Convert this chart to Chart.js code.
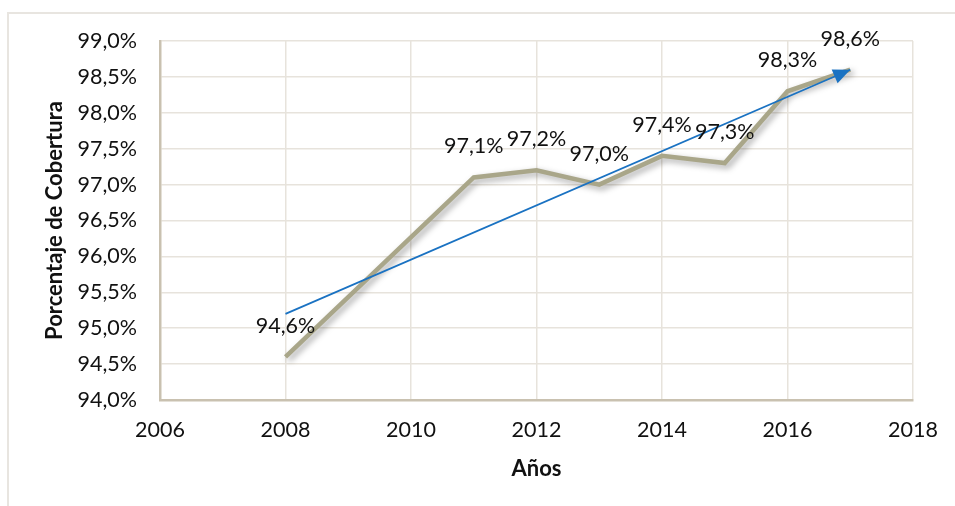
<!DOCTYPE html>
<html>
<head>
<meta charset="utf-8">
<script src="https://cdn.jsdelivr.net/npm/chart.js@4"></script>
<style>
  html, body { margin: 0; padding: 0; background: #fff; }
  #wrap { position: relative; width: 955px; height: 506px; overflow: hidden; }
  #frame { position: absolute; left: 7px; top: 12px; width: 1000px; height: 600px;
           border-left: 2px solid #e8e5e0; border-top: 2px solid #e8e5e0; }
  #c { position: absolute; left: 0; top: 0; }
</style>
</head>
<body>
<div id="wrap">
  <div id="frame"></div>
  <canvas id="c" width="955" height="506"></canvas>
</div>
<script>
const years = [2008, 2011, 2012, 2013, 2014, 2015, 2016, 2017];
const coverage = [94.6, 97.1, 97.2, 97.0, 97.4, 97.3, 98.3, 98.6];
const trendYears = [2008, 2017];
const trendValues = [95.2, 98.6];
const xTitle = 'Años';
const yTitle = 'Porcentaje de Cobertura';

const fmtPct = v => Number(v).toFixed(1).replace('.', ',') + '%';

const shadowPlugin = {
  id: 'shadow',
  beforeDatasetDraw(chart, args) {
    if (chart.data.datasets[args.index].id === 'data') {
      const c = chart.ctx;
      c.save();
      c.shadowColor = 'rgba(0,0,0,0.35)';
      c.shadowBlur = 6;
      c.shadowOffsetX = 3;
      c.shadowOffsetY = 3;
    }
  },
  afterDatasetDraw(chart, args) {
    if (chart.data.datasets[args.index].id === 'data') chart.ctx.restore();
  }
};

const arrowPlugin = {
  id: 'arrow',
  afterDatasetsDraw(chart) {
    const idx = chart.data.datasets.findIndex(d => d.id === 'trend');
    const pts = chart.getDatasetMeta(idx).data;
    const a = pts[pts.length - 2], b = pts[pts.length - 1];
    const ang = Math.atan2(b.y - a.y, b.x - a.x);
    const L = 17, W = 7.5;
    const c = chart.ctx;
    c.save();
    c.translate(b.x, b.y);
    c.rotate(ang);
    c.beginPath();
    c.moveTo(0, 0);
    c.lineTo(-L, -W);
    c.lineTo(-L, W);
    c.closePath();
    c.fillStyle = '#1a72c2';
    c.fill();
    c.restore();

    // data labels
    const di = chart.data.datasets.findIndex(d => d.id === 'data');
    const meta = chart.getDatasetMeta(di);
    c.save();
    c.font = '21.5px Lato';
    c.fillStyle = '#111';
    c.textAlign = 'center';
    c.textBaseline = 'middle';
    meta.data.forEach((el, i) => {
      c.fillText(fmtPct(coverage[i]), el.x, el.y - 31);
    });
    c.restore();
  }
};

new Chart(document.getElementById('c'), {
  type: 'line',
  data: {
    datasets: [
      {
        id: 'data',
        data: years.map((x, i) => ({ x, y: coverage[i] })),
        borderColor: '#a9a689',
        borderWidth: 4.5,
        pointRadius: 0,
        tension: 0,
        order: 2
      },
      {
        id: 'trend',
        data: trendYears.map((x, i) => ({ x, y: trendValues[i] })),
        borderColor: '#1a72c2',
        borderWidth: 1.8,
        pointRadius: 0,
        tension: 0,
        order: 1
      }
    ]
  },
  options: {
    responsive: false,
    animation: false,
    layout: { padding: { left: 0, top: 41, right: 42, bottom: 0 } },
    plugins: { legend: { display: false }, tooltip: { enabled: false } },
    scales: {
      x: {
        type: 'linear',
        min: 2006, max: 2018,
        afterFit(s) { s.height = 106; },
        ticks: { stepSize: 2, callback: v => String(v), color: '#111', font: { family: 'Lato', size: 21.5 }, padding: 17, maxRotation: 0 },
        grid: { color: '#e7e3dc', lineWidth: 1.5, drawTicks: false },
        border: { color: '#c9c1b0', width: 2.5 },
        title: { display: true, text: xTitle, color: '#111', font: { family: 'Lato', size: 22, weight: 'bold' }, padding: { top: 0, bottom: 23.8 } }
      },
      y: {
        min: 94, max: 99,
        afterFit(s) { s.width = 160; },
        ticks: { stepSize: 0.5, callback: v => fmtPct(v), color: '#111', font: { family: 'Lato', size: 21.5 }, padding: 23 },
        grid: { color: '#e7e3dc', lineWidth: 1.5, drawTicks: false },
        border: { color: '#c9c1b0', width: 2.5 },
        title: { display: true, text: yTitle, color: '#111', font: { family: 'Lato', size: 22, weight: 'bold' }, padding: { top: 41.8, bottom: 0 } }
      }
    }
  },
  plugins: [shadowPlugin, arrowPlugin]
});
</script>
</body>
</html>
